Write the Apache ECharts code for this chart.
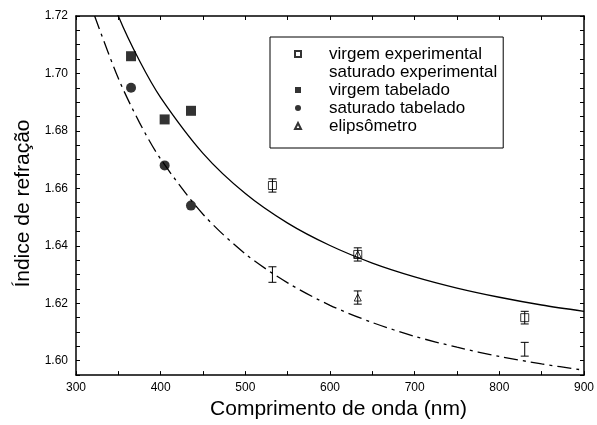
<!DOCTYPE html>
<html>
<head>
<meta charset="utf-8">
<script src="https://cdn.jsdelivr.net/npm/echarts@6/dist/echarts.min.js"></script>
<style>html,body{margin:0;padding:0;background:#fff;}#c{width:597px;height:425px;}</style>
</head>
<body>
<div id="c"></div>
<script>
// ---- data ----
const xTickLabels = [300, 400, 500, 600, 700, 800, 900];
const yTickLabels = ['1.60', '1.62', '1.64', '1.66', '1.68', '1.70', '1.72'];

const tabWavelengths = [365, 404.7, 435.8];
const virgemTabelado = [1.706, 1.684, 1.687];
const saturadoTabelado = [1.695, 1.668, 1.654];

const expWavelengths = [532, 632.8, 830];
const virgemExp = [1.661, 1.637, 1.615];
const virgemExpErr = [0.0023, 0.0023, 0.0022];
const saturadoExp = [1.630, 1.622, 1.604];
const saturadoExpErr = [0.0027, 0.0023, 0.0024];

const elipWavelengths = [632.8, 632.8];
const elipsometro = [1.637, 1.622];

const curveX = [322, 350, 375, 400, 450, 500, 550, 600, 650, 700, 750, 800, 850, 900];
const curveVirgem = [1.7421, 1.7200, 1.7044, 1.6916, 1.6722, 1.6582, 1.6479, 1.6401, 1.6340, 1.6292, 1.6253, 1.6221, 1.6194, 1.6172];
const curveSaturado = [1.7200, 1.6983, 1.6829, 1.6702, 1.6510, 1.6372, 1.6271, 1.6193, 1.6133, 1.6085, 1.6047, 1.6015, 1.5989, 1.5967];

const Y_MIN = 1.595, Y_MAX = 1.72;

function pairs(xs, ys) { return xs.map((x, i) => [x, ys[i]]); }
function triples(xs, ys, es) { return xs.map((x, i) => [x, ys[i], es[i]]); }

function errRender(params, api) {
  const x = api.value(0), y = api.value(1), e = api.value(2);
  const t = api.coord([x, y + e]);
  const b = api.coord([x, y - e]);
  const hw = 4;
  const st = { stroke: '#000', lineWidth: 1 };
  return {
    type: 'group',
    children: [
      { type: 'line', shape: { x1: t[0], y1: t[1], x2: b[0], y2: b[1] }, style: st },
      { type: 'line', shape: { x1: t[0] - hw, y1: t[1], x2: t[0] + hw, y2: t[1] }, style: st },
      { type: 'line', shape: { x1: b[0] - hw, y1: b[1], x2: b[0] + hw, y2: b[1] }, style: st }
    ]
  };
}

const isMult = (v, step) => Math.abs(v / step - Math.round(v / step)) < 1e-6;
const axisCommon = {
  axisLine: { show: true, lineStyle: { color: '#000', width: 1.5 } },
  splitLine: { show: false },
  axisTick: { show: true, inside: true, length: 4, lineStyle: { color: '#000', width: 1 } }
};

const chart = echarts.init(document.getElementById('c'), null, { renderer: 'canvas' });
chart.setOption({
  animation: false,
  backgroundColor: '#fff',
  grid: { left: 76, right: 10, top: 16, bottom: 48, containLabel: false },
  xAxis: [
    Object.assign({}, axisCommon, {
      type: 'value', position: 'bottom', min: 300, max: 900, interval: 50,
      name: 'Comprimento de onda (nm)', nameLocation: 'middle', nameGap: 23,
      nameTextStyle: { fontFamily: 'Liberation Sans', fontSize: 21, color: '#000', padding: [0, 0, 0, 17] },
      axisLabel: {
        margin: 7, fontFamily: 'Liberation Sans', fontSize: 12, color: '#000',
        formatter: v => (xTickLabels.indexOf(Math.round(v)) >= 0 && isMult(v, 100)) ? String(Math.round(v)) : ''
      }
    }),
    Object.assign({}, axisCommon, {
      type: 'value', position: 'top', min: 300, max: 900, interval: 50,
      axisLabel: { show: false }
    })
  ],
  yAxis: [
    Object.assign({}, axisCommon, {
      type: 'value', position: 'left', min: Y_MIN, max: Y_MAX, interval: 0.005,
      name: 'Índice de refração', nameLocation: 'middle', nameGap: 32,
      nameTextStyle: { fontFamily: 'Liberation Sans', fontSize: 21, color: '#000', padding: [0, 16, 0, 0] },
      axisLabel: {
        margin: 8, fontFamily: 'Liberation Sans', fontSize: 12, color: '#000',
        formatter: v => { const s = v.toFixed(2); return (isMult(v, 0.02) && yTickLabels.indexOf(s) >= 0) ? s : ''; }
      }
    }),
    Object.assign({}, axisCommon, {
      type: 'value', position: 'right', min: Y_MIN, max: Y_MAX, interval: 0.005,
      axisLabel: { show: false }
    })
  ],
  legend: {
    left: 270, top: 37, orient: 'vertical',
    itemWidth: 6, itemHeight: 6, itemGap: 0,
    padding: [8, 6, 13, 24],
    borderColor: '#000', borderWidth: 1, backgroundColor: '#fff',
    textStyle: { fontFamily: 'Liberation Sans', fontSize: 17, lineHeight: 18, color: '#000', padding: [0, 0, 0, 23] },
    selectedMode: false,
    data: [
      { name: 'virgem experimental' },
      { name: 'saturado experimental', icon: 'none' },
      { name: 'virgem tabelado' },
      { name: 'saturado tabelado' },
      { name: 'elipsômetro' }
    ]
  },
  series: [
    {
      name: 'ajuste virgem', type: 'line', data: pairs(curveX, curveVirgem), smooth: 0.3,
      showSymbol: false, clip: true, lineStyle: { color: '#000', width: 1.3, type: 'solid' }
    },
    {
      name: 'ajuste saturado', type: 'line', data: pairs(curveX, curveSaturado), smooth: 0.3,
      showSymbol: false, clip: true, lineStyle: { color: '#000', width: 1.3, type: [14, 5, 3, 5] }
    },
    {
      name: 'virgem experimental', type: 'scatter', data: pairs(expWavelengths, virgemExp),
      symbol: 'rect', symbolSize: 8, itemStyle: { color: '#fff', borderColor: '#000', borderWidth: 1 }
    },
    {
      name: 'elipsômetro', type: 'scatter', data: pairs(elipWavelengths, elipsometro),
      symbol: 'triangle', symbolSize: 7, itemStyle: { color: '#fff', borderColor: '#000', borderWidth: 1 }
    },
    {
      name: 'virgem experimental (erro)', type: 'custom', renderItem: errRender,
      data: triples(expWavelengths, virgemExp, virgemExpErr), z: 3
    },
    {
      name: 'saturado experimental', type: 'custom', renderItem: errRender,
      data: triples(expWavelengths, saturadoExp, saturadoExpErr), z: 3, itemStyle: { color: '#000' }
    },
    {
      name: 'virgem tabelado', type: 'scatter', data: pairs(tabWavelengths, virgemTabelado),
      symbol: 'rect', symbolSize: 10, itemStyle: { color: '#000' }
    },
    {
      name: 'saturado tabelado', type: 'scatter', data: pairs(tabWavelengths, saturadoTabelado),
      symbol: 'circle', symbolSize: 10, itemStyle: { color: '#000' }
    }
  ]
});
</script>
</body>
</html>
